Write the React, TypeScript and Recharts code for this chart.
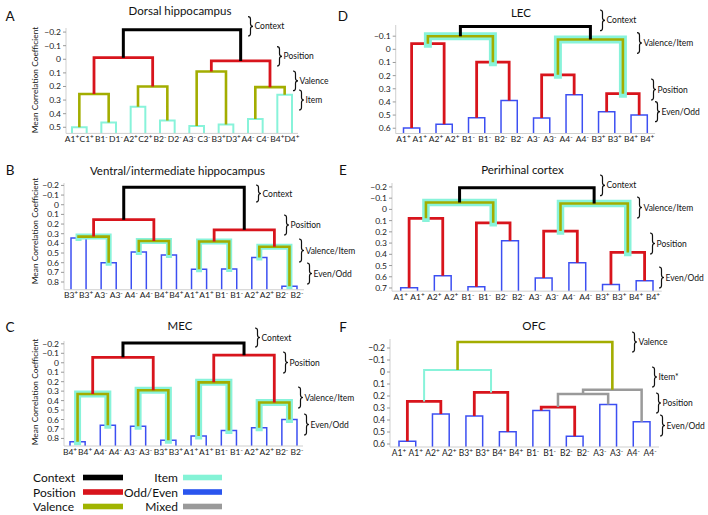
import React from 'react';
import { LineChart, Line, XAxis, YAxis } from 'recharts';

type Kind = 'C' | 'P' | 'V' | 'I' | 'VI' | 'E' | 'M';
type Merge = [number, number, number, Kind]; // left node, right node, height, cluster type

// A: dorsal hippocampus
const aLeaves = ['A1+', 'C1+', 'B1-', 'D1-', 'A2+', 'C2+', 'B2-', 'D2-', 'A3-', 'C3-', 'B3+', 'D3+', 'A4-', 'C4-', 'B4+', 'D4+'];
const aMerges: Merge[] = [
  [0, 1, 0.5, 'I'], [2, 3, 0.465, 'I'], [4, 5, 0.35, 'I'], [6, 7, 0.45, 'I'],
  [8, 9, 0.49, 'I'], [10, 11, 0.48, 'I'], [12, 13, 0.44, 'I'], [14, 15, 0.26, 'I'],
  [16, 17, 0.255, 'V'], [18, 19, 0.2, 'V'], [20, 21, 0.09, 'V'], [22, 23, 0.205, 'V'],
  [24, 25, -0.012, 'P'], [26, 27, 0.012, 'P'],
  [28, 29, -0.218, 'C'],
];
const aTicks = [-0.2, -0.1, 0, 0.1, 0.2, 0.3, 0.4, 0.5];

// B: ventral/intermediate hippocampus
const bLeaves = ['B3+', 'B3+', 'A3-', 'A3-', 'A4-', 'A4-', 'B4+', 'B4+', 'A1+', 'A1+', 'B1-', 'B1-', 'A2+', 'A2+', 'B2-', 'B2-'];
const bMerges: Merge[] = [
  [0, 1, 0.345, 'E'], [2, 3, 0.6, 'E'], [4, 5, 0.49, 'E'], [6, 7, 0.52, 'E'],
  [8, 9, 0.667, 'E'], [10, 11, 0.665, 'E'], [12, 13, 0.545, 'E'], [14, 15, 0.845, 'E'],
  [16, 17, 0.33, 'VI'], [18, 19, 0.376, 'VI'], [20, 21, 0.38, 'VI'], [22, 23, 0.435, 'VI'],
  [24, 25, 0.155, 'P'], [26, 27, 0.26, 'P'],
  [28, 29, -0.18, 'C'],
];
const bTicks = [-0.2, -0.1, 0, 0.1, 0.2, 0.3, 0.4, 0.5, 0.6, 0.7, 0.8];

// C: MEC
const cLeaves = ['B4+', 'B4+', 'A4-', 'A4-', 'A3-', 'A3-', 'B3+', 'B3+', 'A1+', 'A1+', 'B1-', 'B1-', 'A2+', 'A2+', 'B2-', 'B2-'];
const cMerges: Merge[] = [
  [0, 1, 0.835, 'E'], [2, 3, 0.66, 'E'], [4, 5, 0.67, 'E'], [6, 7, 0.82, 'E'],
  [8, 9, 0.775, 'E'], [10, 11, 0.715, 'E'], [12, 13, 0.687, 'E'], [14, 15, 0.6, 'E'],
  [16, 17, 0.33, 'VI'], [18, 19, 0.29, 'VI'], [20, 21, 0.207, 'VI'], [22, 23, 0.42, 'VI'],
  [24, 25, -0.057, 'P'], [26, 27, -0.08, 'P'],
  [28, 29, -0.21, 'C'],
];
const cTicks = [-0.2, -0.1, 0, 0.1, 0.2, 0.3, 0.4, 0.5, 0.6, 0.7, 0.8];

// D: LEC
const dLeaves = ['A1+', 'A1+', 'A2+', 'A2+', 'B1-', 'B1-', 'B2-', 'B2-', 'A3-', 'A3-', 'A4-', 'A4-', 'B3+', 'B3+', 'B4+', 'B4+'];
const dMerges: Merge[] = [
  [0, 1, 0.598, 'E'], [2, 3, 0.57, 'E'], [4, 5, 0.52, 'E'], [6, 7, 0.39, 'E'],
  [8, 9, 0.523, 'E'], [10, 11, 0.345, 'E'], [12, 13, 0.475, 'E'], [14, 15, 0.5, 'E'],
  [16, 17, -0.043, 'P'], [18, 19, 0.098, 'P'], [20, 21, 0.194, 'P'], [22, 23, 0.337, 'P'],
  [24, 25, -0.1, 'VI'], [26, 27, -0.075, 'VI'],
  [28, 29, -0.174, 'C'],
];
const dTicks = [-0.1, 0, 0.1, 0.2, 0.3, 0.4, 0.5, 0.6];

// E: perirhinal cortex
const eLeaves = ['A1+', 'A1+', 'A2+', 'A2+', 'B1-', 'B1-', 'B2-', 'B2-', 'A3-', 'A3-', 'A4-', 'A4-', 'B3+', 'B3+', 'B4+', 'B4+'];
const eMerges: Merge[] = [
  [0, 1, 0.697, 'E'], [2, 3, 0.59, 'E'], [4, 5, 0.69, 'E'], [6, 7, 0.28, 'E'],
  [8, 9, 0.61, 'E'], [10, 11, 0.475, 'E'], [12, 13, 0.668, 'E'], [14, 15, 0.636, 'E'],
  [16, 17, 0.08, 'P'], [18, 19, 0.12, 'P'], [20, 21, 0.193, 'P'], [22, 23, 0.383, 'P'],
  [24, 25, -0.062, 'VI'], [26, 27, -0.053, 'VI'],
  [28, 29, -0.192, 'C'],
];
const eTicks = [-0.2, -0.1, 0, 0.1, 0.2, 0.3, 0.4, 0.5, 0.6, 0.7];

// F: OFC
const fLeaves = ['A1+', 'A1+', 'A2+', 'A2+', 'B3+', 'B3+', 'B4+', 'B4+', 'B1-', 'B1-', 'B2-', 'B2-', 'A3-', 'A3-', 'A4-', 'A4-'];
const fMerges: Merge[] = [
  [0, 1, 0.578, 'E'], [2, 3, 0.35, 'E'], [4, 5, 0.367, 'E'], [6, 7, 0.497, 'E'],
  [8, 9, 0.32, 'E'], [10, 11, 0.536, 'E'], [12, 13, 0.27, 'E'], [14, 15, 0.414, 'E'],
  [16, 17, 0.245, 'P'], [18, 19, 0.17, 'P'], [20, 21, 0.292, 'P'],
  [26, 22, 0.183, 'M'], [27, 23, 0.147, 'M'],
  [24, 25, -0.017, 'I'],
  [29, 28, -0.25, 'V'],
];
const fTicks = [-0.2, -0.1, 0, 0.1, 0.2, 0.3, 0.4, 0.5, 0.6];

const legendLeft = ['Context', 'Position', 'Valence'];
const legendRight = ['Item', 'Odd/Even', 'Mixed'];

const FONT = 'Lato, "Open Sans", sans-serif';
const COLOR: Record<string, string> = {
  C: '#000000', P: '#d8141c', V: '#a3ad00', I: '#88f3da', E: '#3c4ff2', M: '#9a9a9a',
};
const WIDTH: Record<string, number> = { C: 3, P: 2.8, V: 2.6, I: 2, E: 1.5, M: 2.5 };

const fmt = (v: number) => (v === 0 ? '0' : (v < 0 ? '\u2212' : '') + Math.abs(v).toFixed(1));

function buildLinks(n: number, merges: Merge[], base: number) {
  const xs: number[] = [];
  const ys: number[] = [];
  for (let i = 0; i < n; i++) { xs.push(i + 1); ys.push(base); }
  return merges.map(([a, b, h, kind]) => {
    const pts = [
      { x: xs[a], y: ys[a] }, { x: xs[a], y: h },
      { x: xs[b], y: h }, { x: xs[b], y: ys[b] },
    ];
    xs.push((xs[a] + xs[b]) / 2);
    ys.push(h);
    return { kind, pts };
  });
}

type Frame = { col: number; L: number; P1: number; P16: number; y0: number; k: number; yDomain: [number, number]; halo?: number };

function Dendro({ leaves, merges, ticks, frame }: { leaves: string[]; merges: Merge[]; ticks: number[]; frame: Frame }) {
  const { col, L, P1, P16, y0, k, yDomain } = frame;
  const s = (P16 - P1) / 15;
  const pad = (P1 - L) / s;
  const plotRight = P16 + (P1 - L);
  const plotTop = y0 + k * yDomain[0];
  const plotBottom = y0 + k * yDomain[1];
  const top = plotTop - 4;
  const height = plotBottom - top + 14;
  const links = buildLinks(leaves.length, merges, yDomain[1]);
  const leafTicks = leaves.map((_, i) => i + 1);

  const LeafTick = (p: any) => {
    const lab: string = leaves[Math.round(p.payload.value) - 1] || '';
    const sign = lab.slice(-1);
    return (
      <text x={p.x} y={p.y + 8.5} textAnchor="middle" fontSize={8.5} fill="#1a1a1a" fontFamily={FONT}>
        {lab.slice(0, -1)}
        <tspan dy={-3} fontSize={6.5}>{sign === '-' ? '-' : '+'}</tspan>
      </text>
    );
  };

  const lines: React.ReactNode[] = [];
  links.forEach((lk, i) => {
    if (lk.kind === 'VI') {
      lines.push(
        <Line key={`h${i}`} data={lk.pts} dataKey="y" type="linear" stroke={COLOR.I} strokeWidth={frame.halo || 7}
          strokeLinecap="square" strokeLinejoin="miter" dot={false} activeDot={false} isAnimationActive={false} />
      );
      lines.push(
        <Line key={`l${i}`} data={lk.pts} dataKey="y" type="linear" stroke={COLOR.V} strokeWidth={2.6}
          dot={false} activeDot={false} isAnimationActive={false} />
      );
    } else {
      lines.push(
        <Line key={`l${i}`} data={lk.pts} dataKey="y" type="linear" stroke={COLOR[lk.kind]} strokeWidth={WIDTH[lk.kind]}
          dot={false} activeDot={false} isAnimationActive={false} />
      );
    }
  });

  return (
    <div style={{ position: 'absolute', left: col, top }}>
      <LineChart width={354} height={height} margin={{ top: 4, right: col + 354 - plotRight, bottom: 0, left: 0 }}>
        <XAxis type="number" dataKey="x" domain={[1 - pad, 16 + pad]} ticks={leafTicks} interval={0} allowDataOverflow
          height={14} tickLine={false} tickSize={0} tickMargin={0} axisLine={{ stroke: '#cfcfcf' }} tick={LeafTick} />
        <YAxis type="number" reversed domain={yDomain} ticks={ticks} interval={0} allowDataOverflow
          width={L - col} axisLine={{ stroke: '#cfcfcf' }} tickLine={{ stroke: '#9a9a9a' }} tickSize={3} tickMargin={2}
          tick={{ fontSize: 8.5, fill: '#1a1a1a', fontFamily: FONT }} tickFormatter={fmt} />
        {lines}
      </LineChart>
    </div>
  );
}

const bracePath = (x: number, y1: number, y2: number, w = 5) => {
  const m = (y1 + y2) / 2;
  const r = 2.5;
  const xm = x + w * 0.5;
  return `M${x},${y1} Q${xm},${y1} ${xm},${y1 + r} L${xm},${m - r} Q${xm},${m} ${x + w},${m} ` +
    `Q${xm},${m} ${xm},${m + r} L${xm},${y2 - r} Q${xm},${y2} ${x},${y2}`;
};

const braces: [number, number, number, string][] = [
  [248, 16.7, 36, 'Context'], [277, 46.7, 66, 'Position'], [293, 71, 90.7, 'Valence'], [299, 90, 110, 'Item'],
  [256, 185, 202, 'Context'], [284, 215, 235, 'Position'], [299, 239, 262, 'Valence/Item'], [307, 263, 284, 'Even/Odd'],
  [255, 328, 347, 'Context'], [283, 352, 373, 'Position'], [298, 387, 408, 'Valence/Item'], [304, 414, 435, 'Even/Odd'],
  [600, 10, 30.7, 'Context'], [637, 32.7, 53.3, 'Valence/Item'], [651, 79, 100, 'Position'], [655, 101.7, 121.7, 'Even/Odd'],
  [600, 175, 195.7, 'Context'], [637, 197, 218, 'Valence/Item'], [650, 233, 254, 'Position'], [659, 267, 288, 'Even/Odd'],
  [632, 332, 352, 'Valence'], [652, 367, 387, 'Item*'], [656, 393, 413, 'Position'], [660, 415, 436, 'Even/Odd'],
];

const titles: [number, number, string][] = [
  [180, 10, 'Dorsal hippocampus'], [177.5, 170, 'Ventral/intermediate hippocampus'], [180, 325, 'MEC'],
  [521, 12, 'LEC'], [522.5, 169, 'Perirhinal cortex'], [534, 325, 'OFC'],
];
const letters: [number, number, string][] = [
  [10, 16, 'A'], [10, 170, 'B'], [10, 327, 'C'], [343, 16, 'D'], [343, 170, 'E'], [343, 327, 'F'],
];
const yLabelCenters = [80, 231, 392];

export default function App() {
  const legendRows = [477.5, 492, 506.5];
  const leftSw = [COLOR.C, COLOR.P, '#a0b400'];
  const rightSw = ['#84f3d6', '#2a55ee', '#9a9a9a'];
  return (
    <div style={{ position: 'absolute', left: 0, top: 0, width: 708, height: 515, background: '#fff', overflow: 'hidden' }}>
      <Dendro leaves={aLeaves} merges={aMerges} ticks={aTicks}
        frame={{ col: 0, L: 66, P1: 72, P16: 292, y0: 59, k: 136, yDomain: [-0.23, 0.545] }} />
      <Dendro leaves={bLeaves} merges={bMerges} ticks={bTicks}
        frame={{ col: 0, L: 64, P1: 71, P16: 297, y0: 204.3, k: 96.6, yDomain: [-0.225, 0.88], halo: 6 }} />
      <Dendro leaves={cLeaves} merges={cMerges} ticks={cTicks}
        frame={{ col: 0, L: 64, P1: 70, P16: 297, y0: 362.7, k: 94.6, yDomain: [-0.23, 0.88], halo: 7 }} />
      <Dendro leaves={dLeaves} merges={dMerges} ticks={dTicks}
        frame={{ col: 354, L: 395.7, P1: 403.5, P16: 647.3, y0: 49, k: 131.5, yDomain: [-0.185, 0.64], halo: 8 }} />
      <Dendro leaves={eLeaves} merges={eMerges} ticks={eTicks}
        frame={{ col: 354, L: 392, P1: 400.7, P16: 653, y0: 209.3, k: 112.3, yDomain: [-0.235, 0.728], halo: 7.5 }} />
      <Dendro leaves={fLeaves} merges={fMerges} ticks={fTicks}
        frame={{ col: 354, L: 390, P1: 399, P16: 650, y0: 372.3, k: 120, yDomain: [-0.275, 0.625] }} />

      <svg width={708} height={515} style={{ position: 'absolute', left: 0, top: 0, pointerEvents: 'none' }} fontFamily={FONT}>
        {titles.map(([x, y, t]) => (
          <text key={t} x={x} y={y} textAnchor="middle" dominantBaseline="central" fontSize={11.5} fill="#111">{t}</text>
        ))}
        {letters.map(([x, y, t]) => (
          <text key={t} x={x} y={y} textAnchor="middle" dominantBaseline="central" fontSize={13.5} fill="#111">{t}</text>
        ))}
        {yLabelCenters.map((cy) => (
          <text key={cy} x={35} y={cy} transform={`rotate(-90 35 ${cy})`} textAnchor="middle" dominantBaseline="central"
            fontSize={8.4} fill="#111">Mean Correlation Coefficient</text>
        ))}
        {braces.map(([x, y1, y2, t], i) => (
          <g key={i}>
            <path d={bracePath(x, y1, y2)} fill="none" stroke="#111" strokeWidth={1.2} />
            <text x={x + 6.5} y={(y1 + y2) / 2} dominantBaseline="central" fontSize={8.5} fill="#111">{t}</text>
          </g>
        ))}
        {legendLeft.map((t, i) => (
          <g key={t}>
            <text x={33} y={legendRows[i]} dominantBaseline="central" fontSize={12} fill="#111">{t}</text>
            <rect x={83} y={legendRows[i] - 2.8} width={40} height={5.6} fill={leftSw[i]} />
          </g>
        ))}
        {legendRight.map((t, i) => (
          <g key={t}>
            <text x={178} y={legendRows[i]} textAnchor="end" dominantBaseline="central" fontSize={12} fill="#111">{t}</text>
            <rect x={183} y={legendRows[i] - 2.8} width={39} height={5.6} fill={rightSw[i]} />
          </g>
        ))}
      </svg>
    </div>
  );
}
